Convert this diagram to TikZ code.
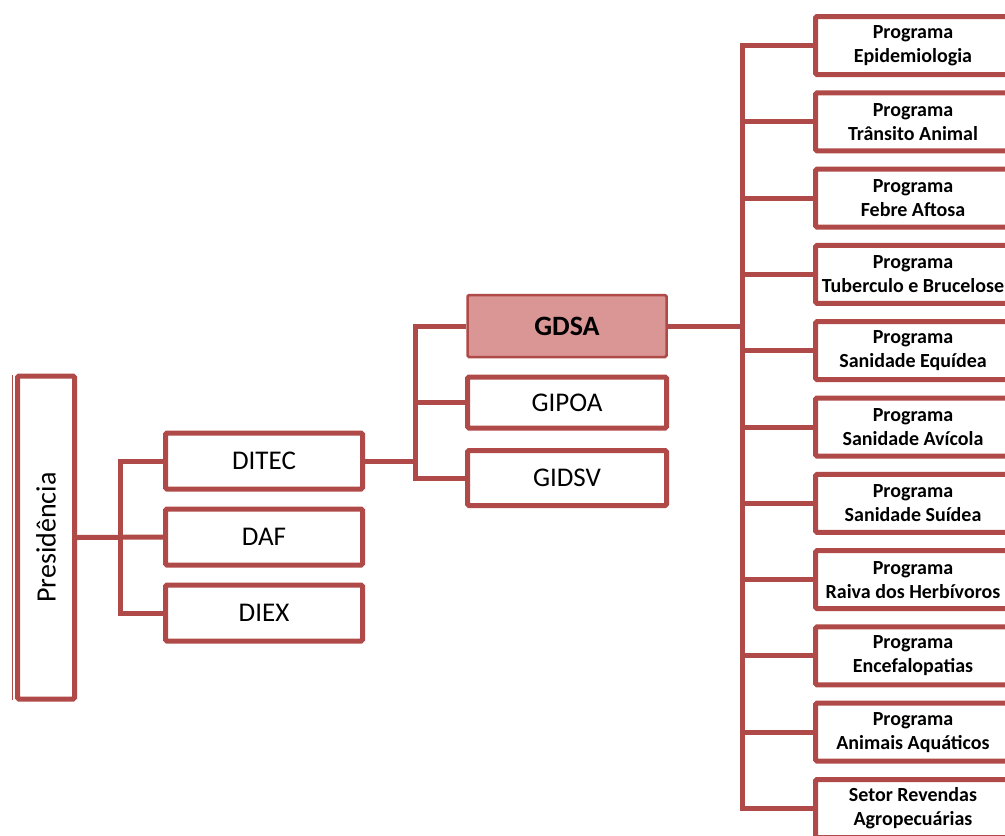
\documentclass[tikz,border=0pt]{standalone}
\usepackage{fontspec}
\setmainfont{Carlito}
\definecolor{boxred}{HTML}{B04A48}
\definecolor{gdsafill}{HTML}{D99694}
\begin{document}
\begin{tikzpicture}[x=1pt,y=-1pt,
  conn/.style={draw=boxred,line width=5pt},
  unit/.style={draw=boxred,line width=5pt,fill=white,rounded corners=1.5pt,
    inner sep=0pt,font=\fontsize{27}{31}\selectfont},
  dir/.style={unit,minimum width=197pt,minimum height=56pt},
  ger/.style={unit,minimum width=199pt,minimum height=55pt},
  prog/.style={unit,minimum width=195pt,minimum height=58pt,align=center,
    font=\bfseries\fontsize{20}{24}\selectfont},
]
\useasboundingbox (0,0) rectangle (1005,836);
\clip (0,0) rectangle (1005,836);

% top level
\node[unit,rotate=90,minimum width=323pt,minimum height=57pt,
  font=\fontsize{28}{32}\selectfont] (pres) at (46,537.5) {Presidência};
\draw[draw=boxred,line width=1pt] (12.5,375) -- (12.5,700);

% directorates
\node[dir] (ditec) at (264,461) {DITEC};
\node[dir] (daf)   at (264,537) {DAF};
\node[dir] (diex)  at (264,613) {DIEX};

% managements
\node[ger,fill=gdsafill,line width=2.5pt,minimum height=62pt,
  font=\bfseries\fontsize{28}{32}\selectfont] (gdsa) at (567,326) {GDSA};
\node[ger,minimum height=51pt] (gipoa) at (567,402.5) {GIPOA};
\node[ger] (gidsv) at (567,478) {GIDSV};

% programmes
\foreach \i/\txt in {1/{Programa\\Epidemiologia},
                     2/{Programa\\Trânsito Animal},
                     3/{Programa\\Febre Aftosa},
                     4/{Programa\\Tuberculo e Brucelose},
                     5/{Programa\\Sanidade Equídea},
                     6/{Programa\\Sanidade Avícola},
                     7/{Programa\\Sanidade Suídea},
                     8/{Programa\\Raiva dos Herbívoros},
                     9/{Programa\\Encefalopatias},
                     10/{Programa\\Animais Aquáticos},
                     11/{Setor Revendas\\Agropecuárias}}
  \node[prog] (p\i) at (913,{45.5+76.3*(\i-1)}) {\txt};

% bus coordinates
\coordinate (b1) at (120,0);
\coordinate (b2) at (415,0);
\coordinate (b3) at (742,0);

% connectors: presidency to directorates
\draw[conn] (pres.south) -- (daf.west);
\draw[conn] (ditec.west) -- (b1 |- ditec.west) -- (b1 |- diex.west) -- (diex.west);

% connectors: DITEC to managements
\draw[conn] (ditec.east) -- (b2 |- ditec.east);
\draw[conn] (gdsa.west) -- (b2 |- gdsa.west) -- (b2 |- gidsv.west) -- (gidsv.west);
\draw[conn] (b2 |- gipoa.west) -- (gipoa.west);

% connectors: GDSA to programmes
\draw[conn] (gdsa.east) -- (b3 |- gdsa.east);
\draw[conn] (p1.west) -- (b3 |- p1.west) -- (b3 |- p11.west) -- (p11.west);
\foreach \i in {2,...,10}
  \draw[conn] (b3 |- p\i.west) -- (p\i.west);
\end{tikzpicture}
\end{document}
